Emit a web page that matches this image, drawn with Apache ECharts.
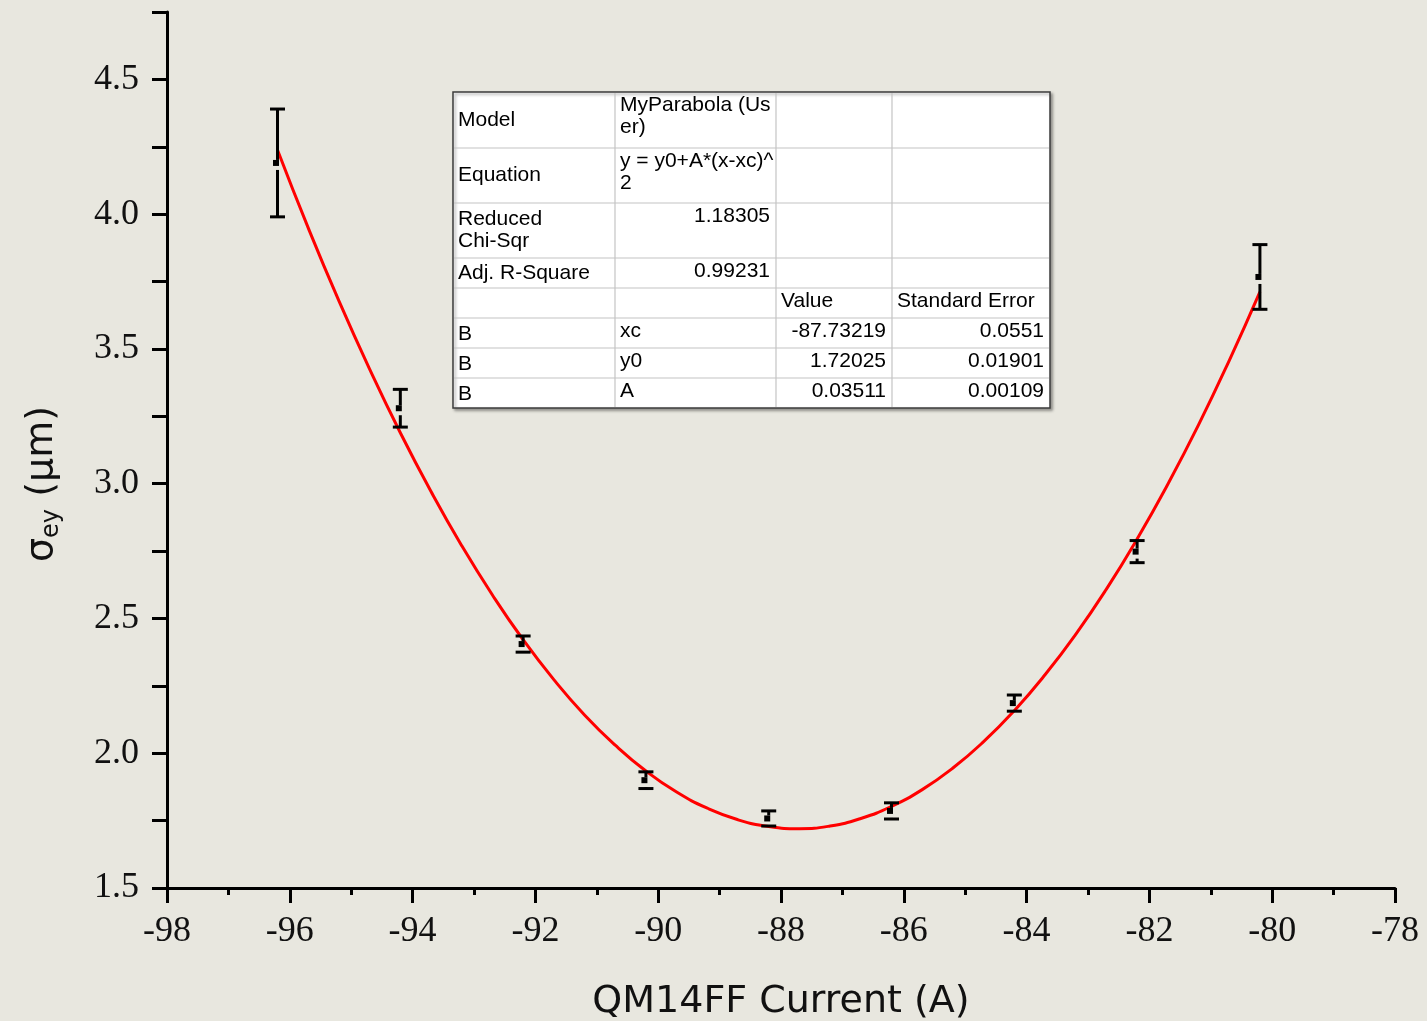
<!DOCTYPE html>
<html>
<head>
<meta charset="utf-8">
<script src="https://cdn.jsdelivr.net/npm/echarts@6/dist/echarts.min.js"></script>
<style>
html,body{margin:0;padding:0;background:#e8e7df;}
#chart{width:1427px;height:1021px;}
</style>
</head>
<body>
<div id="chart"></div>
<script>
// ---- measured data (QM14FF current scan) ----
const xValues = [-96.2, -94.2, -92.2, -90.2, -88.2, -86.2, -84.2, -82.2, -80.2];
const yValues = [4.190, 3.280, 2.405, 1.900, 1.758, 1.786, 2.186, 2.748, 3.767];
const yErrors = [0.200, 0.070, 0.030, 0.031, 0.028, 0.030, 0.030, 0.041, 0.120];

// ---- fitted curve ----
const fitX = [-96.2,-95.7,-95.2,-94.7,-94.2,-93.7,-93.2,-92.7,-92.2,-91.7,-91.2,-90.7,-90.2,-89.7,-89.2,-88.7,-88.2,-87.7,-87.2,-86.7,-86.2,-85.7,-85.2,-84.7,-84.2,-83.7,-83.2,-82.7,-82.2,-81.7,-81.2,-80.7,-80.2];
const fitY = [4.238,3.949,3.678,3.425,3.189,2.971,2.770,2.587,2.421,2.273,2.142,2.030,1.934,1.856,1.796,1.753,1.728,1.720,1.730,1.758,1.803,1.865,1.945,2.043,2.158,2.291,2.441,2.609,2.795,2.998,3.218,3.457,3.712];

// ---- axes ----
const xTicks = { min: -98, max: -78, interval: 2 };
const yTicks = { min: 1.5, max: 4.75, interval: 0.25 };
const xTitle = 'QM14FF Current (A)';

// ---- fit results table ----
const tableRows = [
  ['Model', 'MyParabola (Us\ner)', '', ''],
  ['Equation', 'y = y0+A*(x-xc)^\n2', '', ''],
  ['Reduced\nChi-Sqr', '1.18305', '', ''],
  ['Adj. R-Square', '0.99231', '', ''],
  ['', '', 'Value', 'Standard Error'],
  ['B', 'xc', '-87.73219', '0.0551'],
  ['B', 'y0', '1.72025', '0.01901'],
  ['B', 'A', '0.03511', '0.00109']
];
const rightAligned = [
  [false,false,false,false],
  [false,false,false,false],
  [false,true,false,false],
  [false,true,false,false],
  [false,false,false,false],
  [false,false,true,true],
  [false,false,true,true],
  [false,false,true,true]
];

const rowEdges = [92,148,203,258,288,318,348,378,408];
const colEdges = [453,615,776,892,1050];

const pointData = xValues.map((x, i) => [x, yValues[i], yErrors[i]]);
const fitData = fitX.map((x, i) => [x, fitY[i]]);

function buildTable() {
  const els = [];
  const L = colEdges[0], R = colEdges[colEdges.length-1];
  const T = rowEdges[0], B = rowEdges[rowEdges.length-1];
  els.push({type:'rect', shape:{x:L, y:T, width:R-L, height:B-T},
    style:{fill:'#ffffff', stroke:'#3c3c3c', lineWidth:1.5,
      shadowColor:'rgba(0,0,0,0.35)', shadowBlur:3, shadowOffsetX:2, shadowOffsetY:2}, z:10});
  for (let r = 1; r < rowEdges.length-1; r++) {
    els.push({type:'line', shape:{x1:L+1, y1:rowEdges[r], x2:R-1, y2:rowEdges[r]},
      style:{stroke:'#c4c4c4', lineWidth:1.2}, z:11});
  }
  for (let c = 1; c < colEdges.length-1; c++) {
    els.push({type:'line', shape:{x1:colEdges[c], y1:T+1, x2:colEdges[c], y2:B-1},
      style:{stroke:'#c4c4c4', lineWidth:1.2}, z:11});
  }
  tableRows.forEach((row, r) => {
    const top = rowEdges[r], bot = rowEdges[r+1], mid = (top+bot)/2;
    row.forEach((txt, c) => {
      if (!txt) return;
      const right = rightAligned[r][c];
      let x = right ? colEdges[c+1]-6 : colEdges[c]+5;
      let y, va;
      if (c === 0) { y = mid + (r >= 5 ? 1 : 0); va = 'middle'; }
      else if (r <= 2) { y = top + 2; va = 'top'; }
      else { y = mid - 2; va = 'middle'; }
      els.push({type:'text', x:x, y:y, z:12,
        style:{text:txt, fill:'#000', font:'21px "Liberation Sans", Arial, sans-serif',
          lineHeight:22, align: right ? 'right' : 'left', verticalAlign: va}});
    });
  });
  return els;
}

const chart = echarts.init(document.getElementById('chart'), null, {renderer:'canvas'});
chart.setOption({
  backgroundColor: '#e8e7df',
  animation: false,
  grid: { left: 167, top: 12, width: 1228, height: 876, containLabel: false, outerBoundsMode: 'none' },
  xAxis: {
    type: 'value', min: xTicks.min, max: xTicks.max, interval: xTicks.interval,
    name: xTitle, nameLocation: 'middle', nameGap: 95,
    nameTextStyle: { fontFamily: '"DejaVu Sans", sans-serif', fontSize: 38, color: '#111' },
    axisLine: { show: true, onZero: false, lineStyle: { color: '#000', width: 3 } },
    axisTick: { show: true, inside: false, length: 15, lineStyle: { color: '#000', width: 3 } },
    minorTick: { show: true, splitNumber: 2, length: 7, lineStyle: { color: '#000', width: 3 } },
    axisLabel: { margin: 26, fontFamily: '"Liberation Serif", "Times New Roman", serif', fontSize: 36, color: '#111' },
    splitLine: { show: false }
  },
  yAxis: {
    type: 'value', min: yTicks.min, max: yTicks.max, interval: yTicks.interval,
    axisLine: { show: true, onZero: false, lineStyle: { color: '#000', width: 3 } },
    axisTick: { show: true, inside: false, length: 15, lineStyle: { color: '#000', width: 3 } },
    axisLabel: {
      margin: 28, fontFamily: '"Liberation Serif", "Times New Roman", serif', fontSize: 36, color: '#111',
      formatter: v => (Math.abs(v*2 - Math.round(v*2)) < 1e-6 && v < 4.7) ? v.toFixed(1) : ''
    },
    splitLine: { show: false }
  },
  graphic: [
    { type: 'text', x: 42, y: 484, rotation: Math.PI/2, z: 5,
      style: {
        text: '{s|σ}{sub|ey}{s| (μm)}',
        align: 'center', verticalAlign: 'middle',
        rich: {
          s: { fontFamily: '"DejaVu Sans", sans-serif', fontSize: 38, fill: '#111', lineHeight: 44, verticalAlign: 'middle' },
          sub: { fontFamily: '"DejaVu Sans", sans-serif', fontSize: 24, fill: '#111', lineHeight: 24, verticalAlign: 'bottom' }
        }
      }
    }
  ].concat(buildTable()),
  series: [
    {
      type: 'line', data: fitData, showSymbol: false, smooth: true, z: 3,
      lineStyle: { color: '#ff0000', width: 3 }
    },
    {
      type: 'custom', data: pointData, z: 4,
      encode: { x: 0, y: 1 },
      renderItem: function (params, api) {
        const x = api.value(0), y = api.value(1), e = api.value(2);
        const c = api.coord([x, y]);
        const t = api.coord([x, y + e]);
        const b = api.coord([x, y - e]);
        const st = { stroke: '#000', lineWidth: 3 };
        const children = [
          { type: 'line', shape: { x1: c[0], y1: t[1], x2: c[0], y2: Math.max(t[1], c[1]-3) }, style: st },
          { type: 'line', shape: { x1: c[0], y1: Math.min(b[1], c[1]+7), x2: c[0], y2: b[1] }, style: st },
          { type: 'line', shape: { x1: c[0]-7.5, y1: t[1], x2: c[0]+7.5, y2: t[1] }, style: st },
          { type: 'line', shape: { x1: c[0]-7.5, y1: b[1], x2: c[0]+7.5, y2: b[1] }, style: st },
          { type: 'rect', shape: { x: c[0]-4.5, y: c[1]-3, width: 6, height: 6 }, style: { fill: '#000' } }
        ];
        return { type: 'group', children: children };
      }
    }
  ]
});
</script>
</body>
</html>
